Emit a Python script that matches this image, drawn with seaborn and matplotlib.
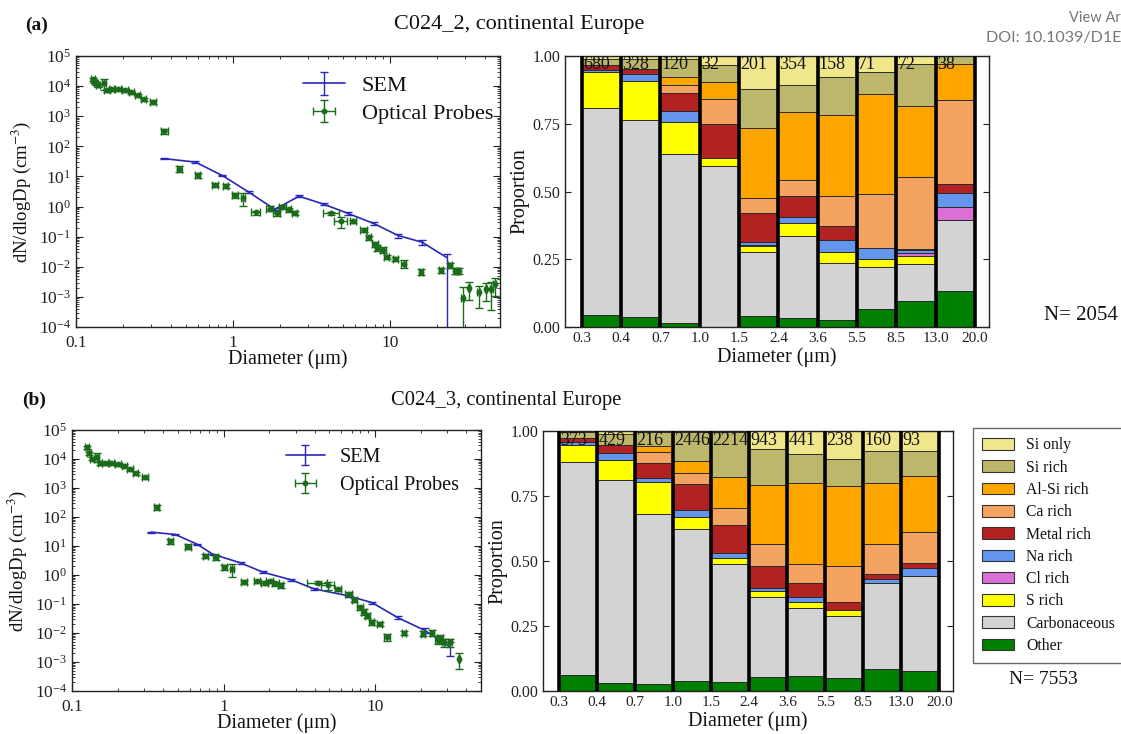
import numpy as np
import pandas as pd
import matplotlib
matplotlib.use("Agg")
import matplotlib.pyplot as plt
import seaborn as sns
from matplotlib.patches import Patch
from matplotlib.ticker import LogFormatterSciNotation, LogLocator, NullFormatter

# ---------------------------------------------------------------- data
# size distributions, panel (a)
sem_a_d = [0.365, 0.575, 0.855, 1.26, 1.84, 2.63, 3.77, 5.4, 7.9, 11.2, 16.0, 23.0]
sem_a_v = [39, 30, 10.7, 3.0, 0.81, 2.2, 1.2, 0.59, 0.27, 0.11, 0.065, 0.020]
sem_a_lo = [0.06, 0.06, 0.06, 0.08, 0.08, 0.06, 0.08, 0.1, 0.12, 0.15, 0.2, 0.999]
sem_a_hi = [0.06, 0.06, 0.06, 0.08, 0.08, 0.06, 0.08, 0.1, 0.12, 0.15, 0.2, 0.35]

op_a_d = [0.128, 0.130, 0.134, 0.138, 0.150, 0.158, 0.168, 0.185, 0.205, 0.225, 0.247, 0.27,
          0.31, 0.365, 0.455, 0.596, 0.766, 0.895, 1.03, 1.15, 1.39, 1.71, 1.9, 2.06, 2.26,
          2.46, 4.23, 4.86, 5.8, 6.8, 7.3, 8.0, 8.3, 9.0, 9.5, 10.8, 12.2, 15.8, 21.0, 24.0,
          26.0, 27.4, 29.0, 31.8, 36.5, 40.7, 44.0, 46.3]
op_a_v = [1.7e4, 1.43e4, 1.23e4, 1.08e4, 1.23e4, 7.3e3, 7.8e3, 7.8e3, 7.2e3, 6.3e3, 5.0e3, 3.7e3,
          2.9e3, 320, 18, 11.2, 5.4, 4.8, 2.4, 1.9, 0.64, 0.86, 0.60, 0.97, 0.80,
          0.60, 0.59, 0.32, 0.32, 0.17, 0.094, 0.055, 0.043, 0.037, 0.021, 0.0178, 0.0126, 0.0068,
          0.0078, 0.0111, 0.0075, 0.0075, 0.00091, 0.0019, 0.0014, 0.0018, 0.0018, 0.0026]
op_a_yerr = [0.12, 0.12, 0.12, 0.12, 0.4, 0.12, 0.12, 0.12, 0.12, 0.12, 0.12, 0.12,
             0.15, 0.2, 0.2, 0.2, 0.15, 0.15, 0.2, 0.45, 0.15, 0.2, 0.2, 0.15, 0.15,
             0.15, 0.12, 0.4, 0.12, 0.15, 0.15, 0.2, 0.2, 0.2, 0.15, 0.15, 0.3, 0.2,
             0.2, 0.2, 0.25, 0.25, 1.3, 0.6, 0.7, 0.6, 0.8, 0.6]
op_a_xerr = [0.03, 0.03, 0.03, 0.03, 0.03, 0.04, 0.04, 0.04, 0.04, 0.04, 0.04, 0.04,
             0.04, 0.05, 0.04, 0.04, 0.04, 0.04, 0.04, 0.03, 0.06, 0.05, 0.05, 0.05, 0.04,
             0.04, 0.12, 0.1, 0.05, 0.05, 0.04, 0.04, 0.04, 0.04, 0.04, 0.04, 0.04, 0.03,
             0.03, 0.03, 0.02, 0.02, 0.02, 0.02, 0.02, 0.02, 0.02, 0.02]

# size distributions, panel (b)
sem_b_d = [0.333, 0.48, 0.67, 0.85, 1.3, 1.82, 2.8, 3.98, 6.7, 9.6, 14.1, 21.2, 31.3]
sem_b_v = [30, 25, 11.5, 5.2, 2.6, 1.25, 0.68, 0.33, 0.19, 0.11, 0.034, 0.0124, 0.0033]
sem_b_lo = [0.05, 0.05, 0.06, 0.06, 0.06, 0.06, 0.06, 0.08, 0.08, 0.1, 0.12, 0.2, 0.5]
sem_b_hi = [0.05, 0.05, 0.06, 0.06, 0.06, 0.06, 0.06, 0.08, 0.08, 0.1, 0.12, 0.2, 0.5]

op_b_d = [0.125, 0.130, 0.136, 0.146, 0.154, 0.165, 0.182, 0.201, 0.221, 0.242, 0.264, 0.303,
          0.362, 0.446, 0.584, 0.76, 0.89, 1.01, 1.13, 1.37, 1.66, 1.87, 2.02, 2.2, 2.39,
          4.2, 4.87, 5.7, 6.7, 7.3, 7.96, 8.4, 8.9, 9.5, 10.7, 12.0, 15.6, 20.8, 23.6,
          26.0, 26.9, 28.3, 31.3, 35.8]
op_b_v = [2.6e4, 1.6e4, 1.03e4, 1.2e4, 7.1e3, 7.1e3, 7.1e3, 6.7e3, 5.9e3, 4.5e3, 3.2e3, 2.35e3,
          216, 15, 9.5, 4.6, 4.1, 1.9, 1.6, 0.57, 0.60, 0.54, 0.60, 0.51, 0.44,
          0.55, 0.44, 0.32, 0.23, 0.135, 0.076, 0.054, 0.040, 0.024, 0.021, 0.0073, 0.0098,
          0.0096, 0.0102, 0.0059, 0.0065, 0.0048, 0.0048, 0.0013]
op_b_yerr = [0.12, 0.12, 0.12, 0.35, 0.12, 0.12, 0.12, 0.12, 0.12, 0.12, 0.12, 0.12,
             0.2, 0.2, 0.2, 0.15, 0.2, 0.2, 0.45, 0.15, 0.15, 0.15, 0.15, 0.15, 0.2,
             0.12, 0.3, 0.15, 0.15, 0.15, 0.15, 0.2, 0.2, 0.2, 0.15, 0.3, 0.15, 0.2, 0.2,
             0.3, 0.3, 0.3, 0.3, 0.55]
op_b_xerr = [0.03, 0.03, 0.03, 0.03, 0.03, 0.04, 0.04, 0.04, 0.04, 0.04, 0.04, 0.04,
             0.04, 0.04, 0.04, 0.04, 0.04, 0.04, 0.03, 0.05, 0.05, 0.05, 0.05, 0.05, 0.04,
             0.15, 0.1, 0.05, 0.05, 0.04, 0.04, 0.04, 0.04, 0.04, 0.04, 0.05, 0.03, 0.03, 0.03,
             0.05, 0.05, 0.03, 0.03, 0.02]

# composition bars
bin_edges = ["0.3", "0.4", "0.7", "1.0", "1.5", "2.4", "3.6", "5.5", "8.5", "13.0", "20.0"]
categories = ["Si only", "Si rich", "Al-Si rich", "Ca rich", "Metal rich",
              "Na rich", "Cl rich", "S rich", "Carbonaceous", "Other"]
cat_colors = ["#F0E68C", "#BDB76B", "#FFA500", "#F4A460", "#B22222",
              "#6495ED", "#DA70D6", "#FFFF00", "#D3D3D3", "#008000"]

counts_a = [680, 328, 120, 32, 201, 354, 158, 71, 72, 38]
comp_a = {
    "Other":        [0.043, 0.037, 0.015, 0.000, 0.039, 0.033, 0.025, 0.068, 0.096, 0.132],
    "Carbonaceous": [0.764, 0.727, 0.625, 0.594, 0.237, 0.303, 0.213, 0.154, 0.138, 0.261],
    "S rich":       [0.133, 0.143, 0.117, 0.028, 0.023, 0.049, 0.037, 0.028, 0.027, 0.000],
    "Cl rich":      [0.000, 0.000, 0.000, 0.000, 0.004, 0.000, 0.003, 0.000, 0.013, 0.050],
    "Na rich":      [0.010, 0.028, 0.041, 0.000, 0.009, 0.021, 0.042, 0.043, 0.009, 0.053],
    "Metal rich":   [0.018, 0.018, 0.067, 0.126, 0.110, 0.077, 0.051, 0.000, 0.005, 0.031],
    "Ca rich":      [0.000, 0.000, 0.027, 0.095, 0.055, 0.061, 0.114, 0.197, 0.266, 0.310],
    "Al-Si rich":   [0.000, 0.000, 0.030, 0.061, 0.259, 0.248, 0.296, 0.368, 0.261, 0.135],
    "Si rich":      [0.022, 0.037, 0.068, 0.062, 0.141, 0.100, 0.141, 0.083, 0.157, 0.028],
    "Si only":      [0.010, 0.010, 0.010, 0.034, 0.123, 0.108, 0.078, 0.059, 0.028, 0.000],
}

counts_b = [373, 429, 216, 2446, 2214, 943, 441, 238, 160, 93]
comp_b = {
    "Other":        [0.061, 0.029, 0.027, 0.038, 0.035, 0.052, 0.059, 0.051, 0.083, 0.077],
    "Carbonaceous": [0.820, 0.781, 0.655, 0.587, 0.453, 0.310, 0.262, 0.238, 0.331, 0.365],
    "S rich":       [0.064, 0.080, 0.122, 0.045, 0.025, 0.022, 0.020, 0.022, 0.000, 0.000],
    "Cl rich":      [0.000, 0.000, 0.000, 0.000, 0.000, 0.000, 0.000, 0.000, 0.000, 0.000],
    "Na rich":      [0.013, 0.026, 0.016, 0.025, 0.018, 0.013, 0.019, 0.000, 0.015, 0.033],
    "Metal rich":   [0.014, 0.032, 0.055, 0.103, 0.107, 0.083, 0.056, 0.033, 0.020, 0.019],
    "Ca rich":      [0.000, 0.000, 0.043, 0.041, 0.064, 0.087, 0.074, 0.136, 0.116, 0.118],
    "Al-Si rich":   [0.000, 0.000, 0.023, 0.045, 0.121, 0.224, 0.310, 0.307, 0.235, 0.214],
    "Si rich":      [0.023, 0.042, 0.054, 0.111, 0.172, 0.141, 0.113, 0.107, 0.122, 0.096],
    "Si only":      [0.005, 0.010, 0.005, 0.005, 0.005, 0.068, 0.087, 0.106, 0.078, 0.078],
}

# ---------------------------------------------------------------- style
sns.set_style("ticks")
plt.rcParams.update({
    "font.family": ["Liberation Serif", "DejaVu Serif"],
    "mathtext.fontset": "stix",
    "xtick.direction": "in", "ytick.direction": "in",
    "xtick.top": True, "ytick.right": True,
    "xtick.color": "#222222", "ytick.color": "#222222",
    "axes.edgecolor": "#222222", "axes.linewidth": 1.0,
    "text.color": "#111111", "axes.labelcolor": "#111111",
})

W, H = 1121, 734
fig = plt.figure(figsize=(W / 100, H / 100), dpi=100)


def rect(x0, y0, x1, y1):
    return [x0 / W, 1 - y1 / H, (x1 - x0) / W, (y1 - y0) / H]


BLUE = "#2828b8"
GREEN = "#1a6b1a"


def size_dist(ax, sd, sv, slo, shi, od, ov, oyerr, oxerr, leg_size, leg_anchor, leg_space):
    sd, sv, slo, shi = map(np.asarray, (sd, sv, slo, shi))
    od, ov, oyerr, oxerr = map(np.asarray, (od, ov, oyerr, oxerr))
    ax.errorbar(sd, sv, yerr=[sv * slo, sv * shi], fmt="-", color=BLUE, lw=1.2,
                elinewidth=1.0, capsize=3, label="SEM", zorder=3)
    ax.errorbar(od, ov, yerr=ov * oyerr, xerr=od * oxerr, fmt="o", ms=3.2,
                color=GREEN, elinewidth=1.0, capsize=3, label="Optical Probes", zorder=4)
    ax.set_xscale("log")
    ax.set_yscale("log")
    ax.set_xlim(0.1, 50)
    ax.set_ylim(1e-4, 1e5)
    ax.set_yticks([10.0 ** k for k in range(-4, 6)])
    ax.yaxis.set_major_formatter(LogFormatterSciNotation())
    ax.yaxis.set_minor_locator(LogLocator(base=10, subs=np.arange(2, 10), numticks=30))
    ax.yaxis.set_minor_formatter(NullFormatter())
    ax.set_xticks([0.1, 1, 10])
    ax.set_xticklabels(["0.1", "1", "10"])
    ax.xaxis.set_minor_formatter(NullFormatter())
    ax.tick_params(which="major", length=5, labelsize=12.5)
    ax.tick_params(axis="x", which="major", pad=5.5)
    ax.tick_params(which="minor", length=2.5)
    ax.set_xlabel("Diameter (μm)", fontsize=14.5, labelpad=-1)
    ax.set_ylabel("dN/dlogDp (cm$^{-3}$)", fontsize=13.5, labelpad=4)
    ax.legend(loc="upper right", bbox_to_anchor=leg_anchor, frameon=False,
              fontsize=leg_size, handlelength=1.9, handletextpad=0.75, labelspacing=leg_space,
              borderaxespad=0.3)


order_bottom = categories[::-1]


def composition(ax, comp, counts, label_y):
    arr = np.array([comp[c] for c in order_bottom])
    cum = arr.cumsum(axis=0)
    rows = []
    for ci, c in enumerate(order_bottom):
        for bi in range(arr.shape[1]):
            rows.append({"bin": bi, "category": c, "cum": min(cum[ci, bi], 1.0)})
    df = pd.DataFrame(rows)
    sns.barplot(data=df, x="bin", y="cum", hue="category", hue_order=categories,
                palette=dict(zip(categories, cat_colors)), dodge=False, width=1.0,
                errorbar=None, saturation=1, edgecolor="#2a2a2a", linewidth=0.7,
                legend=False, ax=ax)
    n = len(counts)
    ax.vlines(np.arange(n + 1) - 0.5, 0, 1, colors="black", lw=2.6, zorder=5)
    for i, cnt in enumerate(counts):
        ax.text(i - 0.47, label_y, str(cnt), ha="left", va="center", fontsize=13, zorder=6)
    ax.set_xlim(-0.93, n - 0.14)
    ax.set_ylim(0, 1)
    ax.set_xticks(np.arange(n + 1) - 0.5)
    ax.set_xticklabels(bin_edges)
    ax.set_yticks([0, 0.25, 0.5, 0.75, 1.0])
    ax.set_yticklabels(["0.00", "0.25", "0.50", "0.75", "1.00"])
    ax.tick_params(axis="x", top=False, length=4, labelsize=11)
    ax.tick_params(axis="y", length=4, labelsize=11.5)
    ax.set_xlabel("Diameter (μm)", fontsize=14.5, labelpad=2)
    ax.set_ylabel("Proportion", fontsize=14.5, labelpad=2)


# ---------------------------------------------------------------- panel (a)
ax1 = fig.add_axes(rect(76, 56, 500, 327))
size_dist(ax1, sem_a_d, sem_a_v, sem_a_lo, sem_a_hi, op_a_d, op_a_v, op_a_yerr, op_a_xerr,
          16, (1.02, 0.985), 0.33)
ax2 = fig.add_axes(rect(565, 56, 989, 327))
composition(ax2, comp_a, counts_a, 0.97)

# ---------------------------------------------------------------- panel (b)
ax3 = fig.add_axes(rect(72, 430, 481, 691))
size_dist(ax3, sem_b_d, sem_b_v, sem_b_lo, sem_b_hi, op_b_d, op_b_v, op_b_yerr, op_b_xerr,
          14.5, (0.98, 0.985), 0.45)
ax4 = fig.add_axes(rect(543, 431, 953, 691))
composition(ax4, comp_b, counts_b, 0.965)

handles = [Patch(facecolor=col, edgecolor="#333333", linewidth=0.8) for col in cat_colors]
fig.legend(handles, categories, loc="upper left", bbox_to_anchor=(973 / W, 1 - 428 / H),
           frameon=True, fancybox=False, edgecolor="#444444", fontsize=11.3,
           handlelength=2.0, handleheight=0.75, labelspacing=0.40, borderpad=0.6,
           handletextpad=0.8, borderaxespad=0)

# ---------------------------------------------------------------- texts
fig.text(25 / W, 1 - 25 / H, "(a)", fontsize=14, fontweight="bold", va="center")
fig.text(519 / W, 1 - 25 / H, "C024_2, continental Europe", fontsize=16, ha="center", va="center")
fig.text(22 / W, 1 - 400 / H, "(b)", fontsize=14, fontweight="bold", va="center")
fig.text(506 / W, 1 - 400 / H, "C024_3, continental Europe", fontsize=14.8, ha="center", va="center")
fig.text(1118 / W, 1 - 315 / H, "N= 2054", fontsize=15, ha="right", va="center")
fig.text(1043 / W, 1 - 680 / H, "N= 7553", fontsize=14, ha="center", va="center")
fig.text(1121 / W, 1 - 18 / H, "View Ar", fontsize=10.5, ha="right", va="center",
         color="#777777", family=["Lato", "DejaVu Sans"])
fig.text(1121 / W, 1 - 38 / H, "DOI: 10.1039/D1E", fontsize=11.5, ha="right", va="center",
         color="#777777", family=["Lato", "DejaVu Sans"])

fig.savefig("out.png", dpi=100)
